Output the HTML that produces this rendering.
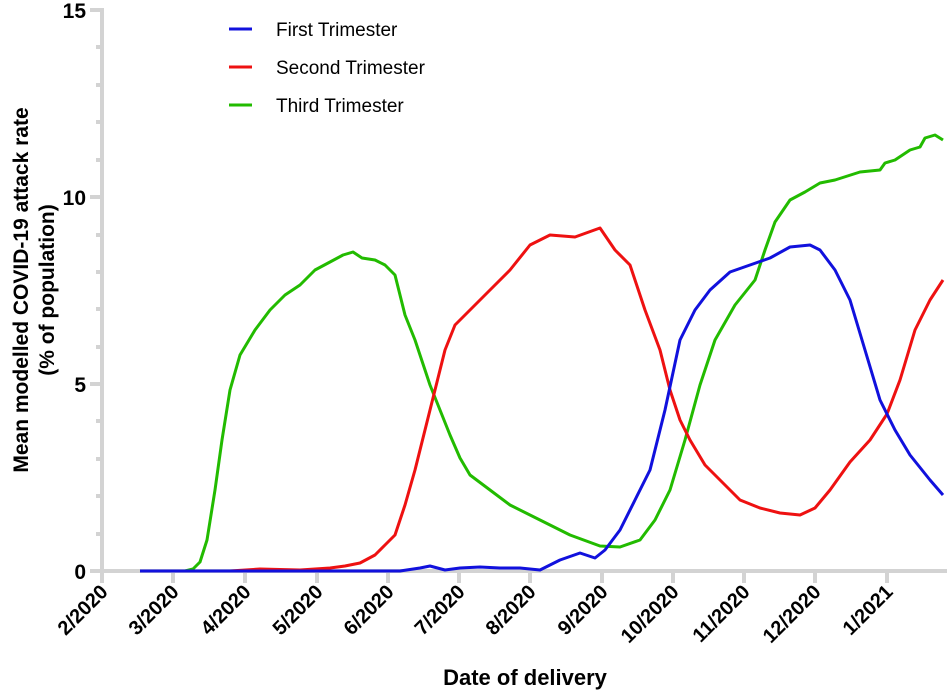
<!DOCTYPE html>
<html><head><style>body{margin:0;background:#fff}</style></head><body>
<svg width="950" height="691" xmlns="http://www.w3.org/2000/svg" font-family="Liberation Sans, Arial, sans-serif">
<g stroke="#d3d3d3" stroke-width="4" fill="none">
<line x1="102" y1="8" x2="102" y2="573"/>
<line x1="100" y1="571" x2="947" y2="571"/>
<path d="M90 10H102M90 197H102M90 384H102M90 571H102"/>
<path d="M96 47H102M96 85H102M96 122H102M96 160H102M96 235H102M96 272H102M96 309H102M96 347H102M96 421H102M96 459H102M96 496H102M96 534H102"/>
<path d="M102 571V583M173 571V583M245 571V583M317 571V583M388 571V583M459 571V583M530 571V583M602 571V583M673 571V583M744 571V583M815 571V583M887 571V583"/>
</g>
<g font-weight="bold" font-size="21" text-anchor="end" fill="#000">
<text x="86" y="18">15</text><text x="86" y="205">10</text><text x="86" y="392">5</text><text x="86" y="579">0</text>
</g>
<g font-weight="bold" font-size="20" text-anchor="end" fill="#000">
<text transform="translate(109,593) rotate(-45)">2/2020</text>
<text transform="translate(180,593) rotate(-45)">3/2020</text>
<text transform="translate(252,593) rotate(-45)">4/2020</text>
<text transform="translate(324,593) rotate(-45)">5/2020</text>
<text transform="translate(395,593) rotate(-45)">6/2020</text>
<text transform="translate(466,593) rotate(-45)">7/2020</text>
<text transform="translate(537,593) rotate(-45)">8/2020</text>
<text transform="translate(609,593) rotate(-45)">9/2020</text>
<text transform="translate(680,593) rotate(-45)">10/2020</text>
<text transform="translate(751,593) rotate(-45)">11/2020</text>
<text transform="translate(822,593) rotate(-45)">12/2020</text>
<text transform="translate(894,593) rotate(-45)">1/2021</text>
</g>
<text x="525" y="685" font-weight="bold" font-size="22" text-anchor="middle">Date of delivery</text>
<g font-weight="bold" font-size="21" text-anchor="middle">
<text transform="translate(28,290) rotate(-90)">Mean modelled COVID-19  attack rate</text>
<text transform="translate(54,290) rotate(-90)">(% of population)</text>
</g>
<g fill="none" stroke-width="3" stroke-linejoin="round">
<polyline stroke="#22bb00" points="140,571 185,571 193,569 200,562 207,540 215,490 222,440 230,390 240,355 255,330 270,310 285,295 300,285 315,270 330,262 343,255 353,252 362,258 375,260 385,265 395,275 405,315 415,340 425,370 430,385 440,410 450,435 460,458 470,475 490,490 510,505 540,520 570,535 600,546 620,547 640,540 655,520 670,490 685,440 700,385 715,340 735,305 755,280 765,250 775,222 790,200 805,192 820,183 835,180 860,172 880,170 885,163 895,160 910,150 920,147 925,138 935,135 943,140"/>
<polyline stroke="#ee1111" points="140,571 230,571 260,569 300,570 330,568 345,566 360,563 375,555 385,545 395,535 405,505 415,470 425,430 435,390 445,350 455,325 470,310 490,290 510,270 530,245 550,235 575,237 600,228 615,250 630,265 645,310 660,350 670,390 680,420 690,440 705,465 720,480 740,500 760,508 780,513 800,515 815,508 830,490 850,462 870,440 887,414 900,380 915,330 930,300 943,280"/>
<polyline stroke="#1111dd" points="140,571 400,571 420,568 430,566 445,570 460,568 480,567 500,568 520,568 540,570 560,560 580,553 595,558 605,550 620,530 635,500 650,470 665,410 680,340 695,310 710,290 730,272 750,265 770,258 790,247 810,245 820,250 835,270 850,300 865,350 880,400 895,430 910,455 930,480 943,495"/>
</g>
<g stroke-width="3">
<line x1="229" y1="29" x2="252" y2="29" stroke="#1111dd"/>
<line x1="229" y1="67" x2="252" y2="67" stroke="#ee1111"/>
<line x1="229" y1="105" x2="252" y2="105" stroke="#22bb00"/>
</g>
<g font-size="19">
<text x="276" y="36">First Trimester</text>
<text x="276" y="74">Second Trimester</text>
<text x="276" y="112">Third Trimester</text>
</g>
</svg>
</body></html>
